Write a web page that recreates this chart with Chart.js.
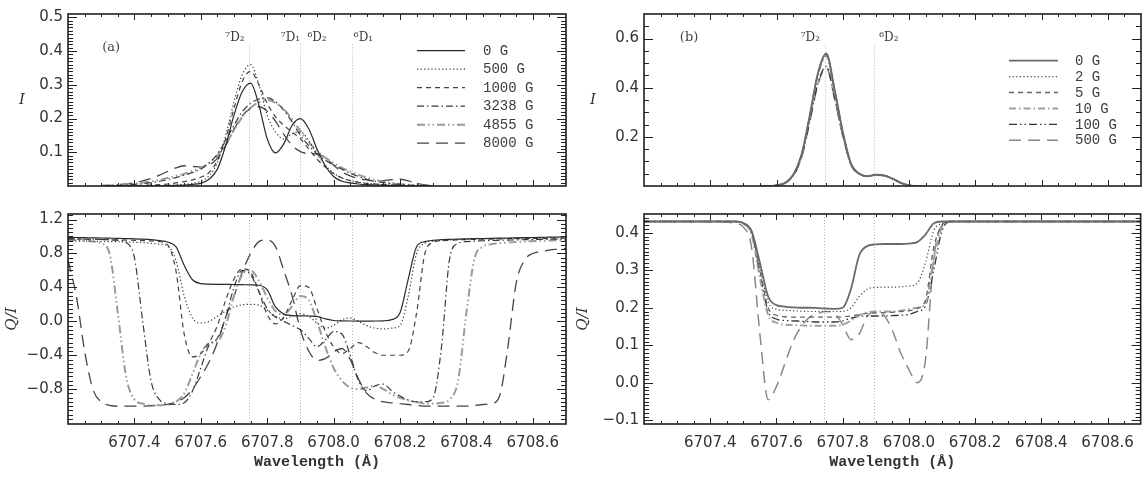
<!DOCTYPE html>
<html><head><meta charset="utf-8">
<script src="https://cdn.jsdelivr.net/npm/chart.js@4.4.1/dist/chart.umd.min.js"></script>
<style>
html,body{margin:0;padding:0;background:#fff;}
#wrap{position:relative;width:1144px;height:478px;overflow:hidden;background:#fff;}
canvas{position:absolute;}
</style></head><body>
<div id="wrap">
<canvas id="aTop" width="572" height="200" style="left:0;top:0"></canvas>
<canvas id="aBot" width="572" height="278" style="left:0;top:200px"></canvas>
<canvas id="bTop" width="572" height="200" style="left:572px;top:0"></canvas>
<canvas id="bBot" width="572" height="278" style="left:572px;top:200px"></canvas>
</div>
<script>
// ---------------- DATA ----------------
const fieldsA = ['0 G','500 G','1000 G','3238 G','4855 G','8000 G'];
const fieldsB = ['0 G','2 G','5 G','10 G','100 G','500 G'];

const xTickLabels = [6707.4,6707.6,6707.8,6708.0,6708.2,6708.4,6708.6];
const yTicksAI = [0.1,0.2,0.3,0.4,0.5];
const yTicksAQ = [-0.8,-0.4,0.0,0.4,0.8,1.2];
const yTicksBI = [0.2,0.4,0.6];
const yTicksBQ = [-0.1,0.0,0.1,0.2,0.3,0.4];

// spectral line positions and their labels
const linesA = [6707.745,6707.900,6708.055];
const linesB = [6707.745,6707.895];
const noteTextA = ['\u2077D\u2082','\u2077D\u2081','\u2076D\u2082','\u2076D\u2081'];
const noteXA = [6707.703,6707.870,6707.950,6708.090];
const noteTextB = ['\u2077D\u2082','\u2076D\u2082'];
const noteXB = [6707.702,6707.939];

// panel (a) intensity
const wlAI = [6707.300,6707.325,6707.350,6707.375,6707.400,6707.425,6707.450,6707.475,6707.500,6707.525,6707.550,6707.575,6707.600,6707.625,6707.650,6707.675,6707.700,6707.725,6707.750,6707.775,6707.800,6707.825,6707.850,6707.875,6707.900,6707.925,6707.950,6707.975,6708.000,6708.025,6708.050,6708.075,6708.100,6708.125,6708.150,6708.175,6708.200,6708.225,6708.250,6708.275,6708.300];
const iA0    = [0,0,0,0,0,0,0,0,0.001,0.002, 0.003,0.005,0.008,0.02,0.05, 0.12,0.21,0.28,0.305,0.24, 0.14,0.098,0.125,0.18,0.2, 0.17,0.11,0.06,0.028,0.014, 0.009,0.006,0.004,0.003,0.002, 0.001,0.001,0,0,0, 0];
const iA500  = [0,0,0,0,0,0,0,0.001,0.002,0.003, 0.005,0.008,0.014,0.03,0.07, 0.15,0.25,0.33,0.36,0.3, 0.21,0.16,0.14,0.155,0.16, 0.135,0.095,0.062,0.038,0.024, 0.016,0.011,0.008,0.006,0.004, 0.003,0.002,0.001,0.001,0, 0];
const iA1000 = [0,0,0,0,0.001,0.002,0.003,0.004,0.006,0.009, 0.013,0.018,0.026,0.04,0.075, 0.14,0.23,0.31,0.34,0.3, 0.245,0.205,0.18,0.16,0.14, 0.11,0.08,0.056,0.037,0.024, 0.016,0.011,0.008,0.006,0.004, 0.003,0.002,0.001,0.001,0, 0];
const iA3238 = [0,0.001,0.002,0.003,0.005,0.007,0.01,0.014,0.019,0.025, 0.032,0.04,0.05,0.068,0.095, 0.135,0.18,0.22,0.245,0.258, 0.262,0.25,0.225,0.19,0.15, 0.12,0.095,0.077,0.062,0.05, 0.038,0.028,0.02,0.014,0.01, 0.007,0.005,0.003,0.002,0.001, 0];
const iA4855 = [0.001,0.002,0.003,0.005,0.007,0.01,0.014,0.018,0.024,0.03, 0.036,0.044,0.054,0.068,0.09, 0.125,0.165,0.205,0.232,0.248, 0.255,0.247,0.228,0.198,0.163, 0.13,0.104,0.084,0.068,0.054, 0.043,0.033,0.025,0.018,0.013, 0.009,0.006,0.004,0.002,0.001, 0];
const iA8000 = [0.001,0.002,0.004,0.006,0.01,0.015,0.022,0.032,0.043,0.054, 0.06,0.058,0.056,0.062,0.082, 0.12,0.168,0.208,0.23,0.235, 0.222,0.192,0.153,0.12,0.102, 0.096,0.095,0.084,0.062,0.042, 0.03,0.022,0.018,0.015,0.016, 0.019,0.02,0.015,0.008,0.003, 0];

// panel (a) Q/I
const wlAQ = [6707.200,6707.225,6707.250,6707.275,6707.300,6707.325,6707.350,6707.375,6707.400,6707.425,6707.450,6707.475,6707.500,6707.525,6707.550,6707.575,6707.600,6707.625,6707.650,6707.675,6707.700,6707.725,6707.750,6707.775,6707.800,6707.825,6707.850,6707.875,6707.900,6707.925,6707.950,6707.975,6708.000,6708.025,6708.050,6708.075,6708.100,6708.125,6708.150,6708.175,6708.200,6708.225,6708.250,6708.275,6708.300,6708.325,6708.350,6708.375,6708.400,6708.425,6708.450,6708.475,6708.500,6708.525,6708.550,6708.575,6708.600,6708.625,6708.650,6708.675,6708.700];
const qA0    = [0.99,0.988,0.986,0.984,0.982, 0.98,0.978,0.975,0.972,0.968, 0.962,0.952,0.935,0.88,0.66, 0.49,0.445,0.438,0.436,0.435, 0.434,0.432,0.43,0.425,0.37, 0.17,0.085,0.068,0.065,0.063, 0.058,0.03,0.01,0.006,0.004, 0.003,0.003,0.004,0.006,0.02, 0.1,0.5,0.88,0.94,0.955, 0.962,0.966,0.97,0.972,0.974, 0.976,0.978,0.98,0.982,0.984, 0.986,0.988,0.99,0.992,0.994, 0.995];
const qA500  = [0.95,0.948,0.946,0.944,0.942, 0.94,0.938,0.935,0.932,0.928, 0.92,0.91,0.89,0.72,0.3, 0.04,-0.02,0.0,0.06,0.12, 0.17,0.195,0.2,0.19,0.13, 0.06,0.03,0.06,0.09,0.06, -0.02,-0.08,-0.05,0.02,0.04, 0.0,-0.05,-0.08,-0.09,-0.08, -0.05,0.3,0.8,0.92,0.945, 0.955,0.96,0.963,0.966,0.968, 0.97,0.972,0.974,0.976,0.978, 0.98,0.981,0.982,0.983,0.984, 0.985];
const qA1000 = [0.97,0.97,0.968,0.966,0.964, 0.962,0.96,0.958,0.955,0.952, 0.948,0.94,0.9,0.6,-0.15, -0.42,-0.38,-0.25,-0.05,0.25, 0.5,0.62,0.58,0.35,0.08, -0.03,0.05,0.25,0.42,0.4, 0.15,-0.12,-0.3,-0.38,-0.32, -0.25,-0.3,-0.37,-0.4,-0.4, -0.4,-0.35,0.1,0.8,0.93, 0.95,0.955,0.96,0.963,0.966, 0.968,0.97,0.972,0.974,0.975, 0.976,0.977,0.978,0.979,0.98, 0.98];
const qA3238 = [0.975,0.972,0.97,0.968,0.965, 0.962,0.955,0.93,0.75,0.0, -0.7,-0.92,-0.97,-0.98,-0.96, -0.82,-0.55,-0.28,-0.2,0.05, 0.4,0.6,0.55,0.35,0.15, 0.05,0.0,-0.05,-0.1,-0.2, -0.3,-0.22,-0.12,-0.15,-0.4, -0.7,-0.82,-0.76,-0.74,-0.82, -0.88,-0.93,-0.95,-0.95,-0.9, -0.3,0.75,0.92,0.94,0.945, 0.95,0.952,0.955,0.957,0.96, 0.962,0.964,0.966,0.967,0.968, 0.97];
const qA4855 = [0.96,0.955,0.95,0.94,0.92, 0.8,0.1,-0.65,-0.92,-0.97, -0.99,-0.99,-0.98,-0.95,-0.85, -0.62,-0.38,-0.26,-0.24,-0.05, 0.3,0.55,0.6,0.48,0.28, 0.12,0.08,0.18,0.3,0.25, 0.0,-0.3,-0.55,-0.7,-0.78, -0.8,-0.78,-0.76,-0.8,-0.86, -0.9,-0.93,-0.95,-0.97,-0.97, -0.96,-0.92,-0.7,0.1,0.75, 0.88,0.91,0.92,0.93,0.935, 0.94,0.945,0.95,0.952,0.955, 0.96];
const qA8000 = [0.72,0.3,-0.35,-0.8,-0.95, -0.99,-1.0,-1.0,-1.0,-1.0, -0.995,-0.99,-0.98,-0.95,-0.9, -0.8,-0.65,-0.48,-0.25,0.05, 0.3,0.58,0.8,0.94,0.96, 0.88,0.6,0.3,-0.1,-0.35, -0.46,-0.44,-0.36,-0.32,-0.45, -0.68,-0.85,-0.92,-0.95,-0.96, -0.97,-0.98,-0.99,-1.0,-1.0, -1.0,-1.0,-1.0,-1.0,-0.99, -0.98,-0.97,-0.88,-0.3,0.45, 0.72,0.8,0.82,0.84,0.85, 0.86];

// panel (b) intensity
const wlBI = [6707.550,6707.575,6707.600,6707.625,6707.650,6707.675,6707.700,6707.725,6707.750,6707.775,6707.800,6707.825,6707.850,6707.875,6707.900,6707.925,6707.950,6707.975,6708.000,6708.025,6708.050];
const iB0   = [0,0,0.003,0.012,0.045, 0.125,0.285,0.46,0.54,0.395, 0.22,0.09,0.05,0.04,0.046, 0.043,0.03,0.013,0.003,0, 0];
const iB2   = [0,0,0.003,0.013,0.046, 0.126,0.286,0.458,0.537,0.393, 0.219,0.09,0.05,0.04,0.046, 0.043,0.03,0.013,0.003,0, 0];
const iB5   = [0,0,0.003,0.012,0.044, 0.123,0.282,0.455,0.534,0.39, 0.218,0.089,0.05,0.04,0.045, 0.043,0.03,0.013,0.003,0, 0];
const iB10  = [0,0,0.003,0.012,0.044, 0.122,0.28,0.452,0.53,0.388, 0.216,0.089,0.049,0.04,0.045, 0.042,0.03,0.013,0.003,0, 0];
const iB100 = [0,0,0.003,0.011,0.042, 0.115,0.262,0.418,0.487,0.36, 0.205,0.086,0.049,0.04,0.045, 0.042,0.029,0.013,0.003,0, 0];
const iB500 = [0,0,0.003,0.011,0.041, 0.113,0.258,0.412,0.482,0.357, 0.203,0.085,0.048,0.04,0.044, 0.042,0.029,0.012,0.003,0, 0];

// panel (b) Q/I
const wlBQ = [6707.200,6707.300,6707.400,6707.450,6707.475,6707.500,6707.525,6707.550,6707.575,6707.600,6707.625,6707.650,6707.675,6707.700,6707.725,6707.750,6707.775,6707.800,6707.825,6707.850,6707.875,6707.900,6707.925,6707.950,6707.975,6708.000,6708.025,6708.050,6708.075,6708.100,6708.125,6708.150,6708.200,6708.300,6708.400,6708.500,6708.600,6708.700];
const qB0   = [0.43,0.43,0.43,0.43,0.43, 0.426,0.405,0.32,0.23,0.207, 0.203,0.201,0.2,0.2,0.199, 0.198,0.197,0.2,0.25,0.34, 0.365,0.369,0.37,0.37,0.37, 0.371,0.375,0.395,0.425,0.43, 0.43,0.43,0.43,0.43,0.43, 0.43,0.43,0.43];
const qB2   = [0.43,0.43,0.43,0.43,0.43, 0.426,0.4,0.31,0.215,0.196, 0.193,0.192,0.191,0.19,0.19, 0.19,0.19,0.19,0.2,0.23, 0.25,0.254,0.255,0.255,0.256, 0.258,0.265,0.32,0.405,0.425, 0.43,0.43,0.43,0.43,0.43, 0.43,0.43,0.43];
const qB5   = [0.43,0.43,0.43,0.43,0.43, 0.425,0.4,0.3,0.2,0.18, 0.176,0.175,0.175,0.175,0.175, 0.175,0.175,0.176,0.178,0.182, 0.185,0.186,0.187,0.188,0.19, 0.192,0.198,0.22,0.36,0.42, 0.43,0.43,0.43,0.43,0.43, 0.43,0.43,0.43];
const qB10  = [0.43,0.43,0.43,0.43,0.43, 0.424,0.395,0.28,0.18,0.16, 0.155,0.154,0.153,0.152,0.152, 0.152,0.152,0.155,0.165,0.18, 0.188,0.19,0.19,0.19,0.192, 0.196,0.2,0.21,0.33,0.415, 0.43,0.43,0.43,0.43,0.43, 0.43,0.43,0.43];
const qB100 = [0.43,0.43,0.43,0.43,0.43, 0.424,0.4,0.29,0.19,0.17, 0.166,0.165,0.164,0.163,0.162, 0.162,0.162,0.165,0.172,0.177, 0.178,0.178,0.178,0.179,0.18, 0.182,0.19,0.205,0.3,0.405, 0.43,0.43,0.43,0.43,0.43, 0.43,0.43,0.43];
const qB500 = [0.43,0.43,0.43,0.428,0.425, 0.415,0.36,0.13,-0.045,-0.01, 0.05,0.11,0.15,0.175,0.185, 0.19,0.185,0.155,0.115,0.13, 0.178,0.19,0.18,0.14,0.08, 0.035,0.0,0.06,0.33,0.42, 0.43,0.43,0.43,0.43,0.43, 0.43,0.43,0.43];

// ---------------- STYLES ----------------
const DOT = [1.2,2.4], DASH = [5,4], DASHDOT = [7,3,1.5,3], DASH3DOT = [8,3,1.5,3,1.5,3], LONG = [12,7];
const styleA = [
  {c:'#2a2a2a', w:1.2, d:[]},
  {c:'#333',    w:1.2, d:DOT},
  {c:'#444',    w:1.2, d:DASH},
  {c:'#3a3a3a', w:1.2, d:DASHDOT},
  {c:'#9a9a9a', w:2.0, d:DASH3DOT},
  {c:'#444',    w:1.3, d:LONG}
];
const styleB = [
  {c:'#6a6a6a', w:1.8, d:[]},
  {c:'#444',    w:1.2, d:DOT},
  {c:'#666',    w:1.3, d:DASH},
  {c:'#a0a0a0', w:2.0, d:DASHDOT},
  {c:'#333',    w:1.3, d:DASH3DOT},
  {c:'#888',    w:1.5, d:LONG}
];

const FMT = v => (v < 0 ? '\u2212' + Math.abs(v).toFixed(1) : v.toFixed(1));

// ---------------- PLUGIN: IDL-like frame, inner ticks, notes, legend ----------------
const idl = {
  id: 'idl',
  beforeDatasetsDraw(chart, args, o) {
    const {ctx, chartArea: a} = chart; const xs = chart.scales.x, ys = chart.scales.y;
    ctx.save();
    ctx.beginPath(); ctx.rect(a.left, a.top, a.right - a.left, a.bottom - a.top); ctx.clip();
    ctx.strokeStyle = '#b8b8b8'; ctx.lineWidth = 1; ctx.setLineDash([1, 2]);
    (o.vlines || []).forEach(v => {
      const px = Math.round(xs.getPixelForValue(v)) + 0.5;
      const top = (o.vlineTop != null) ? ys.getPixelForValue(o.vlineTop) : a.top;
      ctx.beginPath(); ctx.moveTo(px, top); ctx.lineTo(px, a.bottom); ctx.stroke();
    });
    ctx.restore();
  },
  afterDraw(chart, args, o) {
    const {ctx, chartArea: a} = chart; const xs = chart.scales.x, ys = chart.scales.y;
    ctx.save();
    ctx.strokeStyle = '#222'; ctx.lineWidth = 1; ctx.setLineDash([]);
    const isMajor = (v, step) => Math.abs(v / step - Math.round(v / step)) < 1e-6;
    // x ticks (top & bottom)
    const xn = Math.round((xs.max - xs.min) / o.xMinor);
    for (let i = 1; i < xn; i++) {
      const v = xs.min + i * o.xMinor;
      const len = isMajor(v - xs.min, o.xMajor) ? 6 : 3;
      const px = Math.round(xs.getPixelForValue(v)) + 0.5;
      ctx.beginPath();
      ctx.moveTo(px, a.bottom); ctx.lineTo(px, a.bottom - len);
      ctx.moveTo(px, a.top); ctx.lineTo(px, a.top + len);
      ctx.stroke();
    }
    // y ticks (left & right)
    const y0 = Math.ceil(ys.min / o.yMinor - 1e-6), y1 = Math.floor(ys.max / o.yMinor + 1e-6);
    for (let i = y0; i <= y1; i++) {
      const v = i * o.yMinor;
      const py = Math.round(ys.getPixelForValue(v)) + 0.5;
      if (py <= a.top + 1 || py >= a.bottom - 1) continue;
      const len = isMajor(v, o.yMajor) ? 9 : 5;
      ctx.beginPath();
      ctx.moveTo(a.left, py); ctx.lineTo(a.left + len, py);
      ctx.moveTo(a.right, py); ctx.lineTo(a.right - len, py);
      ctx.stroke();
    }
    // frame
    ctx.lineWidth = 1.6; ctx.strokeStyle = '#1e1e1e';
    ctx.strokeRect(a.left, a.top, a.right - a.left, a.bottom - a.top);
    // upright axis title (intensity panels)
    if (o.uprightTitle) {
      ctx.fillStyle = '#333'; ctx.font = 'italic 15px "DejaVu Serif"';
      ctx.textAlign = 'center'; ctx.textBaseline = 'middle';
      ctx.fillText(o.uprightTitle.text, o.uprightTitle.x, (a.top + a.bottom) / 2);
    }
    // notes (line labels)
    if (o.notes) {
      ctx.fillStyle = '#3a3a3a'; ctx.font = '12px "DejaVu Serif"';
      ctx.textAlign = 'center'; ctx.textBaseline = 'middle';
      o.notes.texts.forEach((t, i) => {
        ctx.fillText(t, xs.getPixelForValue(o.notes.xs[i]), ys.getPixelForValue(o.notes.y));
      });
    }
    if (o.tag) {
      ctx.fillStyle = '#444'; ctx.font = '13px "DejaVu Serif"';
      ctx.textAlign = 'center'; ctx.textBaseline = 'middle';
      ctx.fillText(o.tag.text, xs.getPixelForValue(o.tag.x), ys.getPixelForValue(o.tag.y));
    }
    // legend
    if (o.legend) {
      const L = o.legend;
      chart.data.datasets.forEach((ds, i) => {
        const yy = L.y0 + i * L.dy;
        ctx.save();
        ctx.strokeStyle = ds.borderColor; ctx.lineWidth = ds.borderWidth; ctx.setLineDash(ds.borderDash || []);
        ctx.beginPath(); ctx.moveTo(L.x0, yy); ctx.lineTo(L.x1, yy); ctx.stroke();
        ctx.restore();
        ctx.fillStyle = '#3c3c3c'; ctx.font = L.font; ctx.textAlign = 'left'; ctx.textBaseline = 'middle';
        ctx.fillText(ds.label, L.xt, yy + 0.5);
      });
    }
    ctx.restore();
  }
};

function makeChart(id, cfg) {
  const datasets = cfg.series.map((s, i) => ({
    label: cfg.names[i],
    data: cfg.wl.map((w, k) => ({x: w, y: s[k]})),
    borderColor: cfg.style[i].c, borderWidth: cfg.style[i].w, borderDash: cfg.style[i].d,
    pointRadius: 0, fill: false, cubicInterpolationMode: 'monotone', borderCapStyle: 'butt'
  }));
  const tickFont = {family: 'DejaVu Sans', size: 15};
  const xScale = cfg.showX ? {
    type: 'linear', min: 6707.2, max: 6708.7,
    grid: {display: false, drawTicks: false}, border: {display: false},
    afterBuildTicks: s => { s.ticks = xTickLabels.map(v => ({value: v})); },
    ticks: {padding: 10, font: tickFont, color: '#333', autoSkip: false, maxRotation: 0, callback: v => v.toFixed(1)},
    title: {display: true, text: 'Wavelength (\u00C5)', color: '#333',
            font: {family: 'Liberation Mono', size: 15, weight: 'bold'}, padding: {top: 0, bottom: 7}},
    afterFit: s => { s.height = 54; }
  } : {type: 'linear', min: 6707.2, max: 6708.7, display: false};
  return new Chart(document.getElementById(id), {
    type: 'line',
    data: {datasets},
    options: {
      responsive: false, animation: false, devicePixelRatio: 1,
      layout: {padding: cfg.pad},
      plugins: {legend: {display: false}, tooltip: {enabled: false}, idl: cfg.idl},
      scales: {
        x: xScale,
        y: {
          type: 'linear', min: cfg.ymin, max: cfg.ymax,
          grid: {display: false, drawTicks: false}, border: {display: false},
          afterBuildTicks: s => { s.ticks = cfg.yTicks.map(v => ({value: v})); },
          ticks: {padding: 5, font: tickFont, color: '#333', autoSkip: false, callback: FMT},
          title: {display: !!cfg.ytitle, text: cfg.ytitle || '', color: '#333',
                  font: {family: 'DejaVu Serif', size: 15, style: 'italic'}, padding: {top: cfg.ytp || 0, bottom: 0}},
          afterFit: s => { s.width = cfg.yw; }
        }
      }
    },
    plugins: [idl]
  });
}

makeChart('aTop', {
  wl: wlAI, series: [iA0, iA500, iA1000, iA3238, iA4855, iA8000], names: fieldsA, style: styleA,
  showX: false, ymin: 0, ymax: 0.51, yTicks: yTicksAI, ytitle: null, yw: 68,
  pad: {left: 0, right: 6, top: 7, bottom: 7},
  idl: {xMinor: 0.05, xMajor: 0.2, yMinor: 0.01, yMajor: 0.1,
        uprightTitle: {text: 'I', x: 22},
        vlines: linesA, vlineTop: 0.42,
        notes: {texts: noteTextA, xs: noteXA, y: 0.438},
        tag: {text: '(a)', x: 6707.33, y: 0.41},
        legend: {x0: 417, x1: 465, xt: 483, y0: 50.7, dy: 18.5, font: '14px "Liberation Mono"'}}
});
makeChart('aBot', {
  wl: wlAQ, series: [qA0, qA500, qA1000, qA3238, qA4855, qA8000], names: fieldsA, style: styleA,
  showX: true, ymin: -1.21, ymax: 1.265, yTicks: yTicksAQ, ytitle: 'Q/I', ytp: 3, yw: 68,
  pad: {left: 0, right: 6, top: 11, bottom: 0},
  idl: {xMinor: 0.05, xMajor: 0.2, yMinor: 0.05, yMajor: 0.4, vlines: linesA}
});
makeChart('bTop', {
  wl: wlBI, series: [iB0, iB2, iB5, iB10, iB100, iB500], names: fieldsB, style: styleB,
  showX: false, ymin: 0, ymax: 0.7, yTicks: yTicksBI, ytitle: null, yw: 72,
  pad: {left: 0, right: 3, top: 7, bottom: 7},
  idl: {xMinor: 0.05, xMajor: 0.2, yMinor: 0.05, yMajor: 0.2,
        uprightTitle: {text: 'I', x: 21},
        vlines: linesB, vlineTop: 0.576,
        notes: {texts: noteTextB, xs: noteXB, y: 0.602},
        tag: {text: '(b)', x: 6707.336, y: 0.602},
        legend: {x0: 437, x1: 486, xt: 503, y0: 60.7, dy: 15.9, font: '14px "Liberation Mono"'}}
});
makeChart('bBot', {
  wl: wlBQ, series: [qB0, qB2, qB5, qB10, qB100, qB500], names: fieldsB, style: styleB,
  showX: true, ymin: -0.11, ymax: 0.45, yTicks: yTicksBQ, ytitle: 'Q/I', ytp: 2, yw: 72,
  pad: {left: 0, right: 3, top: 11, bottom: 0},
  idl: {xMinor: 0.05, xMajor: 0.2, yMinor: 0.01, yMajor: 0.1, vlines: linesB}
});
</script>
</body></html>
